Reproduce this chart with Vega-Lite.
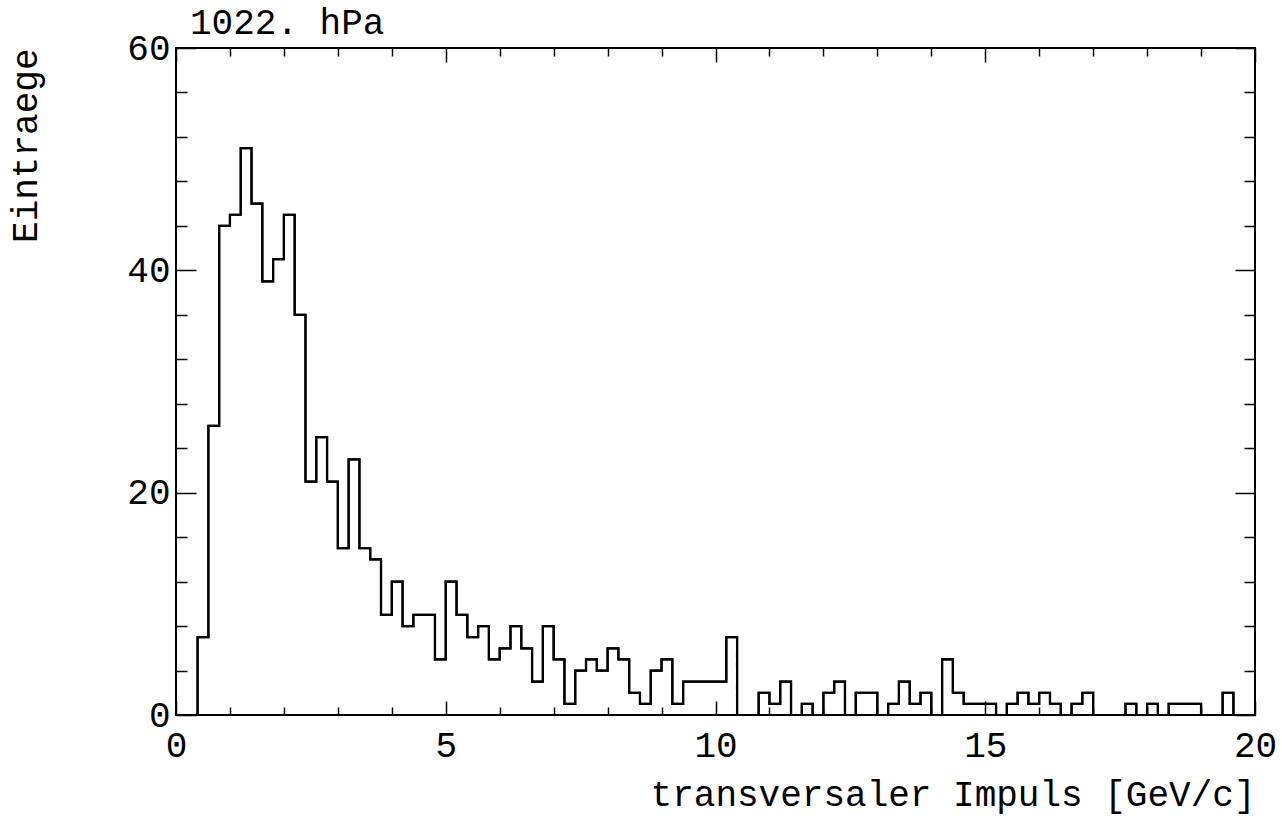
{
  "$schema": "https://vega.github.io/schema/vega-lite/v6.json",
  "width": 1079,
  "height": 667,
  "autosize": {"type": "none"},
  "padding": {"left": 176, "top": 48, "right": 27, "bottom": 112},
  "background": "white",
  "config": {
    "view": {"stroke": "black", "strokeWidth": 2},
    "axis": {
      "domain": false,
      "grid": false,
      "labelFont": "Liberation Mono",
      "labelFontSize": 36,
      "labelColor": "black",
      "tickColor": "black",
      "tickWidth": 1.5,
      "titleFont": "Liberation Mono",
      "titleFontSize": 36,
      "titleFontWeight": "normal",
      "titleColor": "black"
    }
  },
  "title": {
    "text": "1022. hPa",
    "anchor": "start",
    "frame": "group",
    "dx": 14,
    "offset": -12,
    "font": "Liberation Mono",
    "fontSize": 36,
    "fontWeight": "normal",
    "color": "black"
  },
  "data": {
    "values": [
      {"pt": 0.0, "n": 0}, {"pt": 0.2, "n": 0}, {"pt": 0.4, "n": 7}, {"pt": 0.6, "n": 26},
      {"pt": 0.8, "n": 44}, {"pt": 1.0, "n": 45}, {"pt": 1.2, "n": 51}, {"pt": 1.4, "n": 46},
      {"pt": 1.6, "n": 39}, {"pt": 1.8, "n": 41}, {"pt": 2.0, "n": 45}, {"pt": 2.2, "n": 36},
      {"pt": 2.4, "n": 21}, {"pt": 2.6, "n": 25}, {"pt": 2.8, "n": 21}, {"pt": 3.0, "n": 15},
      {"pt": 3.2, "n": 23}, {"pt": 3.4, "n": 15}, {"pt": 3.6, "n": 14}, {"pt": 3.8, "n": 9},
      {"pt": 4.0, "n": 12}, {"pt": 4.2, "n": 8}, {"pt": 4.4, "n": 9}, {"pt": 4.6, "n": 9},
      {"pt": 4.8, "n": 5}, {"pt": 5.0, "n": 12}, {"pt": 5.2, "n": 9}, {"pt": 5.4, "n": 7},
      {"pt": 5.6, "n": 8}, {"pt": 5.8, "n": 5}, {"pt": 6.0, "n": 6}, {"pt": 6.2, "n": 8},
      {"pt": 6.4, "n": 6}, {"pt": 6.6, "n": 3}, {"pt": 6.8, "n": 8}, {"pt": 7.0, "n": 5},
      {"pt": 7.2, "n": 1}, {"pt": 7.4, "n": 4}, {"pt": 7.6, "n": 5}, {"pt": 7.8, "n": 4},
      {"pt": 8.0, "n": 6}, {"pt": 8.2, "n": 5}, {"pt": 8.4, "n": 2}, {"pt": 8.6, "n": 1},
      {"pt": 8.8, "n": 4}, {"pt": 9.0, "n": 5}, {"pt": 9.2, "n": 1}, {"pt": 9.4, "n": 3},
      {"pt": 9.6, "n": 3}, {"pt": 9.8, "n": 3}, {"pt": 10.0, "n": 3}, {"pt": 10.2, "n": 7},
      {"pt": 10.4, "n": 0}, {"pt": 10.6, "n": 0}, {"pt": 10.8, "n": 2}, {"pt": 11.0, "n": 1},
      {"pt": 11.2, "n": 3}, {"pt": 11.4, "n": 0}, {"pt": 11.6, "n": 1}, {"pt": 11.8, "n": 0},
      {"pt": 12.0, "n": 2}, {"pt": 12.2, "n": 3}, {"pt": 12.4, "n": 0}, {"pt": 12.6, "n": 2},
      {"pt": 12.8, "n": 2}, {"pt": 13.0, "n": 0}, {"pt": 13.2, "n": 1}, {"pt": 13.4, "n": 3},
      {"pt": 13.6, "n": 1}, {"pt": 13.8, "n": 2}, {"pt": 14.0, "n": 0}, {"pt": 14.2, "n": 5},
      {"pt": 14.4, "n": 2}, {"pt": 14.6, "n": 1}, {"pt": 14.8, "n": 1}, {"pt": 15.0, "n": 1},
      {"pt": 15.2, "n": 0}, {"pt": 15.4, "n": 1}, {"pt": 15.6, "n": 2}, {"pt": 15.8, "n": 1},
      {"pt": 16.0, "n": 2}, {"pt": 16.2, "n": 1}, {"pt": 16.4, "n": 0}, {"pt": 16.6, "n": 1},
      {"pt": 16.8, "n": 2}, {"pt": 17.0, "n": 0}, {"pt": 17.2, "n": 0}, {"pt": 17.4, "n": 0},
      {"pt": 17.6, "n": 1}, {"pt": 17.8, "n": 0}, {"pt": 18.0, "n": 1}, {"pt": 18.2, "n": 0},
      {"pt": 18.4, "n": 1}, {"pt": 18.6, "n": 1}, {"pt": 18.8, "n": 1}, {"pt": 19.0, "n": 0},
      {"pt": 19.2, "n": 0}, {"pt": 19.4, "n": 2}, {"pt": 19.6, "n": 0}, {"pt": 19.8, "n": 0}
    ]
  },
  "layer": [
    {
      "mark": {"type": "line", "interpolate": "step-after", "color": "black", "strokeWidth": 2.2},
      "encoding": {
        "x": {
          "field": "pt", "type": "quantitative",
          "scale": {"domain": [0, 20], "nice": false, "zero": true},
          "axis": {
            "orient": "bottom",
            "values": [0,1,2,3,4,5,6,7,8,9,10,11,12,13,14,15,16,17,18,19,20],
            "labelExpr": "datum.value % 5 === 0 ? datum.label : ''",
            "tickSize": {"condition": {"test": "datum.value % 5 === 0", "value": -14}, "value": -8},
            "labelPadding": 27,
            "labelFlush": false,
            "labelOverlap": false,
            "title": "transversaler Impuls [GeV/c]",
            "titleAnchor": "end",
            "titlePadding": 8
          }
        },
        "y": {
          "field": "n", "type": "quantitative",
          "scale": {"domain": [0, 60], "nice": false},
          "axis": {
            "orient": "left",
            "values": [0,4,8,12,16,20,24,28,32,36,40,44,48,52,56,60],
            "labelExpr": "datum.value % 20 === 0 ? datum.label : ''",
            "tickSize": {"condition": {"test": "datum.value % 20 === 0", "value": -20}, "value": -11},
            "labelPadding": 26,
            "labelFlush": false,
            "labelOverlap": false,
            "title": "Eintraege",
            "titleAnchor": "end",
            "titlePadding": 82
          }
        }
      }
    },
    {
      "mark": {"type": "line", "interpolate": "step-after", "color": "black", "strokeWidth": 2.2},
      "encoding": {
        "x": {
          "field": "pt", "type": "quantitative",
          "scale": {"domain": [0, 20], "nice": false, "zero": true},
          "axis": {
            "orient": "top",
            "values": [0,1,2,3,4,5,6,7,8,9,10,11,12,13,14,15,16,17,18,19,20],
            "labels": false,
            "tickSize": {"condition": {"test": "datum.value % 5 === 0", "value": -14}, "value": -8},
            "title": null
          }
        },
        "y": {
          "field": "n", "type": "quantitative",
          "scale": {"domain": [0, 60], "nice": false},
          "axis": {
            "orient": "right",
            "values": [0,4,8,12,16,20,24,28,32,36,40,44,48,52,56,60],
            "labels": false,
            "tickSize": {"condition": {"test": "datum.value % 20 === 0", "value": -20}, "value": -11},
            "title": null
          }
        }
      }
    }
  ],
  "resolve": {"axis": {"x": "independent", "y": "independent"}}
}
